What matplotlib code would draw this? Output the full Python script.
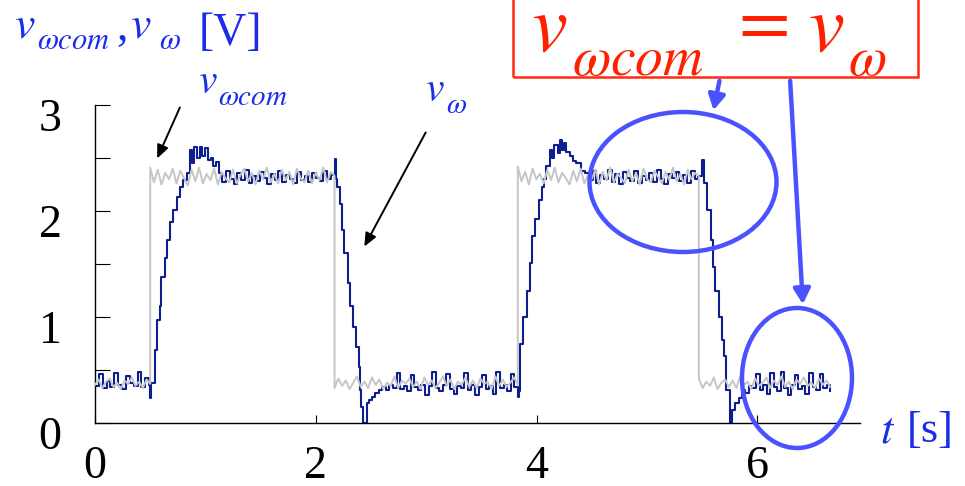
import matplotlib
matplotlib.use('Agg')
import matplotlib.pyplot as plt
import matplotlib.transforms as mtransforms
from matplotlib.patches import Ellipse, Rectangle, FancyArrowPatch
import numpy as np

plt.rcParams['font.family'] = ['Liberation Serif', 'DejaVu Serif']
plt.rcParams['mathtext.fontset'] = 'stix'

# ---- data ----
# command v_wcom : square wave, (start, end) of each plateau and its noisy samples
cmd_edges = [0.0, 0.50, 2.17, 3.83, 5.47, 6.66]
cmd_low0 = [0.36, 0.41, 0.33, 0.39, 0.42, 0.34, 0.38, 0.32, 0.40, 0.37, 0.43, 0.35, 0.39, 0.33, 0.41, 0.37]
cmd_high1 = [2.41, 2.27, 2.39, 2.25, 2.36, 2.30, 2.40, 2.26, 2.38, 2.31, 2.24, 2.39, 2.28, 2.41, 2.26, 2.35,
             2.29, 2.40, 2.25, 2.37, 2.31, 2.27, 2.39, 2.26, 2.34, 2.40, 2.28, 2.36, 2.25, 2.38, 2.30, 2.41,
             2.27, 2.35, 2.26, 2.39, 2.29, 2.37, 2.25, 2.40, 2.31, 2.27, 2.38, 2.26, 2.36, 2.29, 2.41, 2.27,
             2.37, 2.33]
cmd_low2 = [0.33, 0.42, 0.35, 0.40, 0.32, 0.38, 0.44, 0.34, 0.39, 0.33, 0.43, 0.36, 0.41, 0.32, 0.38, 0.35,
            0.44, 0.33, 0.40, 0.37, 0.42, 0.34, 0.39, 0.32, 0.43, 0.36, 0.40, 0.33, 0.38, 0.44, 0.35, 0.41,
            0.32, 0.39, 0.36, 0.43, 0.34, 0.40, 0.33, 0.42, 0.37, 0.39, 0.32, 0.44, 0.35, 0.41, 0.34, 0.38,
            0.43, 0.36]
cmd_high2 = [2.42, 2.28, 2.37, 2.25, 2.40, 2.30, 2.35, 2.26, 2.39, 2.29, 2.41, 2.27, 2.36, 2.31, 2.25, 2.38,
             2.28, 2.40, 2.26, 2.34, 2.30, 2.39, 2.25, 2.37, 2.29, 2.41, 2.27, 2.35, 2.31, 2.26, 2.39, 2.28,
             2.36, 2.25, 2.40, 2.30, 2.27, 2.38, 2.32, 2.26, 2.37, 2.29, 2.41, 2.28, 2.35, 2.25, 2.39, 2.30,
             2.36, 2.33]
cmd_low3 = [0.42, 0.33, 0.39, 0.35, 0.43, 0.32, 0.38, 0.41, 0.34, 0.40, 0.33, 0.44, 0.36, 0.39, 0.32, 0.42,
            0.35, 0.38, 0.43, 0.33, 0.40, 0.36, 0.44, 0.34, 0.39, 0.32, 0.41, 0.37, 0.43, 0.35, 0.38, 0.33,
            0.42, 0.36, 0.40, 0.34]
cmd_segments = [cmd_low0, cmd_high1, cmd_low2, cmd_high2, cmd_low3]

# measured v_w : noisy plateaus plus the (t, v) points of each transition
w_low0 = [0.35, 0.46, 0.33, 0.40, 0.34, 0.47, 0.36, 0.32, 0.44, 0.38, 0.35, 0.48, 0.34, 0.42, 0.36]
w_rise1_t = [0.50, 0.51, 0.54, 0.56, 0.59, 0.60, 0.63, 0.65, 0.68, 0.71, 0.74, 0.77, 0.80, 0.83, 0.86,
             0.88, 0.90, 0.92, 0.95, 0.97, 1.00, 1.02, 1.05, 1.07, 1.10]
w_rise1_v = [0.24, 0.38, 0.69, 0.97, 1.10, 1.38, 1.56, 1.73, 1.90, 2.01, 2.13, 2.23, 2.29, 2.36, 2.58,
             2.45, 2.60, 2.50, 2.60, 2.52, 2.59, 2.48, 2.50, 2.42, 2.46]
w_high1 = [2.36, 2.27, 2.38, 2.30, 2.25, 2.36, 2.29, 2.39, 2.26, 2.33, 2.28, 2.37, 2.31, 2.25, 2.35, 2.29,
           2.38, 2.27, 2.34, 2.30, 2.26, 2.37, 2.29, 2.33, 2.27, 2.36, 2.31, 2.28, 2.38, 2.30, 2.34, 2.49]
w_drop1_t = [2.18, 2.19, 2.22, 2.24, 2.26, 2.29, 2.31, 2.34, 2.36, 2.39, 2.40, 2.41, 2.43, 2.45, 2.46,
             2.48, 2.51, 2.54]
w_drop1_v = [2.30, 2.23, 2.07, 1.82, 1.60, 1.32, 1.10, 0.91, 0.72, 0.53, 0.31, 0.15, 0.00, 0.00, 0.19,
             0.22, 0.25, 0.28]
w_low2 = [0.31, 0.34, 0.31, 0.36, 0.33, 0.47, 0.32, 0.35, 0.30, 0.45, 0.34, 0.31, 0.36, 0.26, 0.35, 0.48,
          0.33, 0.30, 0.36, 0.46, 0.32, 0.27, 0.35, 0.33, 0.47, 0.31, 0.36, 0.26, 0.34, 0.45, 0.32, 0.35,
          0.27, 0.48, 0.33, 0.36, 0.30, 0.46, 0.34, 0.25]
w_rise2_t = [3.84, 3.85, 3.88, 3.91, 3.94, 3.96, 3.99, 4.02, 4.05, 4.07, 4.09, 4.12, 4.14, 4.16, 4.19,
             4.21, 4.23, 4.25, 4.27, 4.30, 4.33, 4.36, 4.40]
w_rise2_v = [0.30, 0.75, 1.00, 1.25, 1.51, 1.76, 1.92, 2.10, 2.23, 2.30, 2.42, 2.58, 2.50, 2.62, 2.55,
             2.67, 2.58, 2.64, 2.56, 2.52, 2.47, 2.45, 2.38]
w_high2 = [2.36, 2.29, 2.38, 2.26, 2.34, 2.30, 2.39, 2.27, 2.35, 2.25, 2.37, 2.31, 2.28, 2.38, 2.26, 2.33,
           2.29, 2.36, 2.27, 2.39, 2.30, 2.25, 2.35, 2.31, 2.37, 2.28, 2.34, 2.26, 2.38, 2.30, 2.33, 2.48]
w_drop2_t = [5.52, 5.54, 5.58, 5.60, 5.62, 5.65, 5.68, 5.70, 5.72, 5.75, 5.77, 5.80, 5.83]
w_drop2_v = [2.26, 2.01, 1.73, 1.47, 1.25, 1.00, 0.78, 0.63, 0.31, 0.00, 0.12, 0.19, 0.24]
w_low3 = [0.31, 0.28, 0.35, 0.33, 0.46, 0.31, 0.36, 0.27, 0.47, 0.34, 0.30, 0.48, 0.33, 0.26, 0.36, 0.45,
          0.32, 0.35, 0.27, 0.47, 0.34, 0.31, 0.46, 0.33, 0.36, 0.30]
w_plateau_spans = [(0.0, 0.49), (1.12, 2.17), (2.57, 3.83), (4.44, 5.50), (5.86, 6.66)]

xticks = [0, 2, 4, 6]
yticks = [0, 1, 2, 3]

# ---- assemble series ----
t_cmd, v_cmd = [], []
for k, seg in enumerate(cmd_segments):
    t_cmd += list(np.linspace(cmd_edges[k], cmd_edges[k + 1], len(seg)))
    v_cmd += seg

plateaus = [w_low0, w_high1, w_low2, w_high2, w_low3]
moves = [(w_rise1_t, w_rise1_v), (w_drop1_t, w_drop1_v), (w_rise2_t, w_rise2_v), (w_drop2_t, w_drop2_v)]
t_w, v_w = [], []
for k, seg in enumerate(plateaus):
    a, b = w_plateau_spans[k]
    t_w += list(np.linspace(a, b, len(seg)))
    v_w += seg
    if k < len(moves):
        t_w += moves[k][0]
        v_w += moves[k][1]

W, H = 965, 486
def fp(x, y):
    # pixel position (from top-left) -> figure fraction
    return (x / W, 1 - y / H)

def put(x, y, s, size, color):
    fig.text(*fp(x, y), s, fontsize=size, color=color, va='baseline', ha='left')

fig = plt.figure(figsize=(W / 100, H / 100), dpi=100)
ax = fig.add_axes([95 / W, 63 / H, 765 / W, 318 / H])

ax.plot(t_w, v_w, color='#0d1f8f', lw=1.5, drawstyle='steps-post', zorder=2)
ax.plot(t_cmd, v_cmd, color='#c6c6c6', lw=1.4, zorder=3)

ax.set_xlim(0, 6.93)
ax.set_ylim(0, 3)
for s in ['top', 'right']:
    ax.spines[s].set_visible(False)
for s in ['left', 'bottom']:
    ax.spines[s].set_linewidth(1.0)

ax.set_xticks(xticks)
ax.set_xticklabels([str(v) for v in xticks])
ax.set_yticks(yticks)
ax.set_yticklabels([str(v) for v in yticks])
ax.set_yticks([0.5, 1.5, 2.5], minor=True)
ax.tick_params(axis='x', direction='in', length=6, width=0.8, pad=16, labelsize=33)
ax.tick_params(axis='y', which='both', direction='in', length=11, width=0.8, pad=24, labelsize=33)
shift = mtransforms.ScaledTranslation(0, -0.10, fig.dpi_scale_trans)
for lab in ax.get_yticklabels():
    lab.set_transform(lab.get_transform() + shift)

blue_txt = '#1a2de8'
# y axis title: v_wcom , v_w [V]
put(14, 38, r'$v$', 33, blue_txt)
put(37, 49, r'$\omega com$', 22, blue_txt)
put(116, 40, ',', 33, blue_txt)
put(130, 38, r'$v$', 33, blue_txt)
put(159, 49, r'$\omega$', 22, blue_txt)
put(199, 45, '[V]', 33, blue_txt)
# curve labels
put(198, 93, r'$v$', 30, blue_txt)
put(218, 105, r'$\omega com$', 21, blue_txt)
put(425, 101, r'$v$', 30, blue_txt)
put(446, 113, r'$\omega$', 21, blue_txt)
# x axis title
put(880, 442, r'$t$', 32, blue_txt)
put(907, 442, '[s]', 32, blue_txt)

# black pointer arrows
for (x0, y0, x1, y1) in [(181, 105, 156, 161), (427, 130, 363, 249)]:
    fig.add_artist(FancyArrowPatch(
        fp(x0, y0), fp(x1, y1), transform=fig.transFigure,
        arrowstyle='-|>,head_length=8,head_width=3.5', color='black', lw=1.4))

# red boxed equation
red = '#ff2000'
fig.add_artist(Rectangle(fp(513, 77), 405 / W, 82 / H, transform=fig.transFigure,
                         fill=False, edgecolor='#ff2a10', lw=1.8))
put(531, 50, r'$v$', 58, red)
put(572, 75, r'$\omega com$', 40, red)
put(728, 43, r'$=$', 54, red)
put(808, 50, r'$v$', 58, red)
put(848, 75, r'$\omega$', 40, red)

# blue ellipses and arrows
ell_blue = '#4a52ff'
fig.add_artist(Ellipse(fp(683, 182), 187 / W, 140 / H, transform=fig.transFigure,
                       fill=False, edgecolor=ell_blue, lw=3.2))
fig.add_artist(Ellipse(fp(797, 378), 110 / W, 140 / H, transform=fig.transFigure,
                       fill=False, edgecolor=ell_blue, lw=3.2))
for (x0, y0, x1, y1) in [(720, 78, 713, 113), (790, 78, 803, 307)]:
    fig.add_artist(FancyArrowPatch(
        fp(x0, y0), fp(x1, y1), transform=fig.transFigure,
        arrowstyle='-|>,head_length=9,head_width=5', color=ell_blue, lw=3.2))

fig.savefig('out.png', dpi=100)
